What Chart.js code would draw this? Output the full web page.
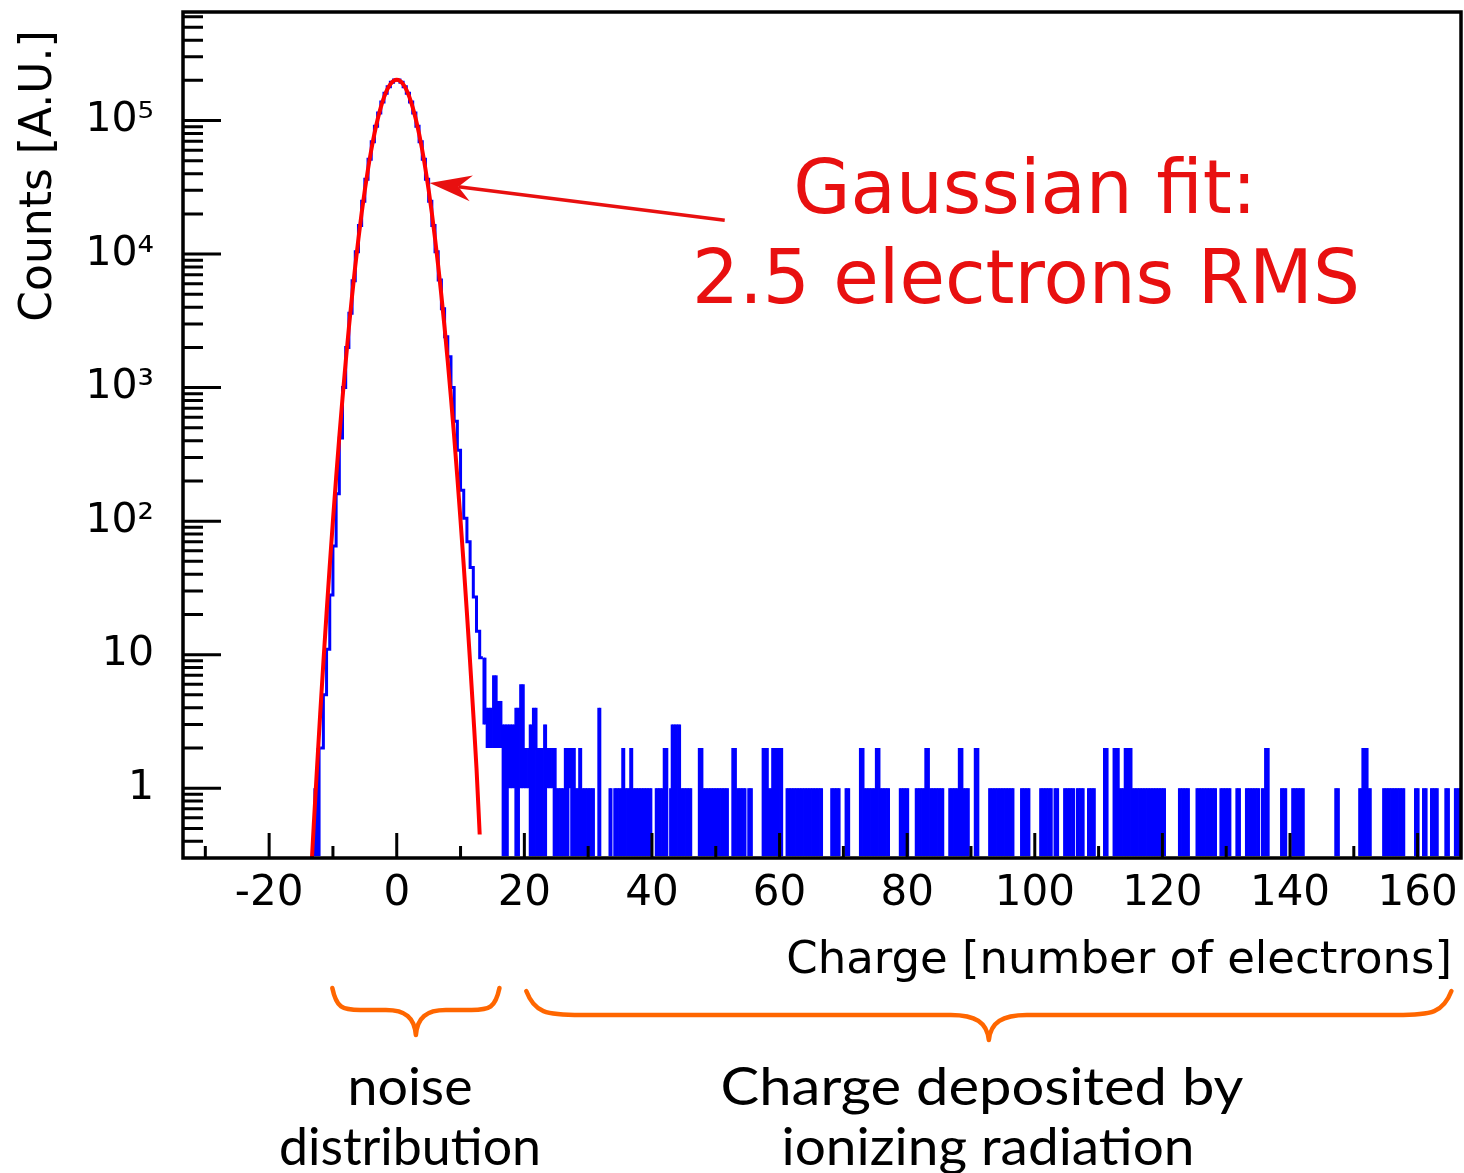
<!DOCTYPE html>
<html>
<head>
<meta charset="utf-8">
<script src="https://cdn.jsdelivr.net/npm/chart.js@4.4.1/dist/chart.umd.min.js"></script>
<style>
  html, body { margin: 0; padding: 0; background: #fff; }
  #wrap { width: 1464px; height: 1173px; position: relative; }
</style>
</head>
<body>
<div id="wrap"><canvas id="c" width="1464" height="1173"></canvas></div>
<script>
// ---------------- data ----------------
// axis ranges
const X_MIN = -33.5, X_MAX = 166.8;
const Y_MIN = 0.31, Y_MAX = 650000;

// tick values and labels
const xTickValues = [-20, 0, 20, 40, 60, 80, 100, 120, 140, 160];
const xMinorValues = [-30, -10, 10, 30, 50, 70, 90, 110, 130, 150];
const yTickValues = [1, 10, 100, 1000, 10000, 100000];
const yTickLabels = ['1', '10', '10²', '10³', '10⁴', '10⁵'];
const yMinorDecades = [0.1, 1, 10, 100, 1000, 10000, 100000];
const yMinorMultipliers = [2, 3, 4, 5, 6, 7, 8, 9];

// noise peak histogram (step outline): bin left edges [electrons] and counts
const peakEdges = [-12.0, -11.5, -11.0, -10.5, -10.0, -9.5, -9.0, -8.5, -8.0, -7.5,
  -7.0, -6.5, -6.0, -5.5, -5.0, -4.5, -4.0, -3.5, -3.0, -2.5,
  -2.0, -1.5, -1.0, -0.5, 0.0, 0.5, 1.0, 1.5, 2.0, 2.5,
  3.0, 3.5, 4.0, 4.5, 5.0, 5.5, 6.0, 6.5, 7.0, 7.5,
  8.0, 8.5, 9.0, 9.5, 10.0, 10.5, 11.0, 11.5, 12.0, 12.5, 13.0];
const peakCounts = [2, 5, 11, 28, 65, 160, 420, 1000, 2000, 3600,
  6300, 10400, 16400, 24900, 36400, 51200, 69400, 90500, 113700, 137500,
  160100, 179400, 193600, 201000, 201000, 193600, 179400, 160100, 137500, 113700,
  90500, 69400, 51200, 36400, 24900, 16400, 10400, 6400, 3900, 2400,
  1700, 1000, 560, 340, 170, 105, 70, 45, 27, 15, 9.5];
const peakClose = 13.5;

// Gaussian fit curve (red), sampled points
const fitX = [-13.5, -13.0, -12.5, -12.0, -11.5, -11.0, -10.5, -10.0, -9.5, -9.0,
  -8.5, -8.0, -7.5, -7.0, -6.5, -6.0, -5.5, -5.0, -4.5, -4.0,
  -3.5, -3.0, -2.5, -2.0, -1.5, -1.0, -0.5, 0.0, 0.5, 1.0,
  1.5, 2.0, 2.5, 3.0, 3.5, 4.0, 4.5, 5.0, 5.5, 6.0,
  6.5, 7.0, 7.5, 8.0, 8.5, 9.0, 9.5, 10.0, 10.5, 11.0,
  11.5, 12.0, 12.5, 13.0];
const fitY = [0.196, 0.535, 1.41, 3.58, 8.73, 20.5, 46.5, 101, 212, 429,
  834, 1560, 2810, 4880, 8150, 13100, 20300, 30200, 43400, 59900,
  79600, 101900, 125600, 149100, 170200, 187200, 198200, 202000, 198200, 187200,
  170200, 149100, 125600, 101900, 79600, 59900, 43400, 30200, 20300, 13100,
  8150, 4880, 2810, 1560, 834, 429, 212, 101, 46.5, 20.5,
  8.73, 3.58, 1.41, 0.45];

// sparse tail (fine-binned counts shown as filled ranges): runs [start,end) with min/max count
const BIN = 0.25;
const tailStart = [-13.0, -12.5, 13.5, 14.0, 15.0, 15.75, 16.5, 17.5, 18.5, 19.25,
  20.0, 20.75, 21.25, 22.0, 23.0, 23.5, 24.5, 25.0, 26.25, 27.0,
  27.25, 28.0, 28.5, 29.0, 31.5, 33.25, 34.0, 35.25, 35.75, 36.5,
  37.0, 40.5, 41.75, 42.75, 43.0, 44.5, 47.25, 48.0, 52.5, 53.25,
  55.0, 57.25, 58.25, 58.75, 61.0, 68.0, 70.25, 72.5, 73.25, 75.0,
  75.75, 78.75, 81.25, 82.75, 83.5, 86.5, 88.0, 88.75, 90.5, 92.75,
  97.75, 100.75, 103.0, 104.5, 106.5, 108.25, 110.75, 112.25, 113.25, 114.0,
  115.25, 122.5, 125.25, 129.0, 131.5, 133.0, 135.5, 136.0, 138.5, 140.25,
  147.0, 150.75, 151.25, 152.25, 154.5, 159.5, 160.75, 162.0, 164.25, 165.75];
const tailEnd = [-12.5, -12.0, 14.0, 15.0, 15.75, 16.5, 17.5, 18.5, 19.25, 20.0,
  20.75, 21.25, 22.0, 23.0, 23.5, 24.5, 25.0, 26.25, 27.0, 27.25,
  28.0, 28.5, 29.0, 31.0, 32.0, 33.75, 35.25, 35.75, 36.5, 37.0,
  40.0, 41.75, 42.5, 43.0, 44.5, 46.25, 48.0, 52.0, 53.25, 54.75,
  55.75, 58.25, 58.75, 60.5, 66.75, 69.5, 71.0, 73.25, 75.0, 75.75,
  77.25, 80.25, 82.75, 83.5, 85.75, 88.0, 88.75, 89.75, 91.25, 96.75,
  99.25, 102.75, 103.75, 106.25, 107.75, 109.5, 111.5, 113.25, 114.0, 115.25,
  120.5, 124.25, 128.5, 130.75, 132.25, 135.25, 136.0, 136.75, 139.5, 142.25,
  147.75, 151.25, 152.25, 152.75, 158.0, 160.25, 161.5, 163.25, 165.0, 167.0];
const tailLow = [0, 0, 3, 2, 2, 2, 0, 1, 0, 1,
  1, 0, 0, 0, 0, 1, 0, 0, 0, 1,
  0, 0, 0, 0, 0, 0, 0, 0, 0, 0,
  0, 0, 0, 0, 0, 0, 0, 0, 0, 0,
  0, 0, 0, 0, 0, 0, 0, 0, 0, 0,
  0, 0, 0, 0, 0, 0, 0, 0, 0, 0,
  0, 0, 0, 0, 0, 0, 0, 0, 0, 0,
  0, 0, 0, 0, 0, 0, 0, 0, 0, 0,
  0, 0, 0, 0, 0, 0, 0, 0, 0, 0];
const tailHigh = [1, 2, 9.5, 4, 7, 4.5, 3, 3, 4, 6,
  2, 3, 4, 2, 3, 2, 2, 1, 2, 2,
  2, 1, 2, 1, 4, 1, 1, 2, 1, 2,
  1, 1, 2, 1, 3, 1, 2, 1, 2, 1,
  1, 2, 1, 2, 1, 1, 1, 2, 1, 2,
  1, 1, 1, 2, 1, 1, 2, 1, 2, 1,
  1, 1, 1, 1, 1, 1, 2, 2, 1, 2,
  1, 1, 1, 1, 1, 1, 1, 2, 1, 1,
  1, 1, 2, 1, 1, 1, 1, 1, 1, 1];

// annotation anchors in data units
const arrowTail = [51.4, 17950];
const arrowTip = [5.15, 34000];
const noiseRange = [-10.1, 16.1];
const radiationRange = [20.3, 165.3];

// ---------------- build library tables ----------------
const barData = [];
tailStart.forEach((s, i) => {
  const n = Math.round((tailEnd[i] - s) / BIN);
  for (let k = 0; k < n; k++) {
    barData.push({ x: s + BIN / 2 + k * BIN, y: [tailLow[i] > 0 ? tailLow[i] : Y_MIN, tailHigh[i]] });
  }
});
const peakData = peakEdges.map((e, i) => ({ x: e, y: peakCounts[i] }));
peakData.push({ x: peakClose, y: peakCounts[peakCounts.length - 1] });
const fitData = fitX.map((x, i) => ({ x: x, y: fitY[i] }));

const FONT = '"DejaVu Sans"';
const BLUE = 'rgb(0,0,255)';
const RED = 'rgb(255,0,0)';
const TXT_RED = 'rgb(232,16,16)';
const ORANGE = 'rgb(255,102,0)';

function stretchText(ctx, text, cx, baseline, targetW) {
  const w = ctx.measureText(text).width;
  ctx.save();
  ctx.translate(cx, baseline);
  ctx.scale(targetW / w, 1);
  ctx.textAlign = 'center';
  ctx.textBaseline = 'alphabetic';
  ctx.fillText(text, 0, 0);
  ctx.restore();
}

function drawBrace(ctx, x0, x1, yTop, yMid, yTip, rEnd, rc) {
  const xc = (x0 + x1) / 2;
  ctx.beginPath();
  ctx.moveTo(x0, yTop);
  ctx.bezierCurveTo(x0 + rEnd * 0.15, yMid - (yMid - yTop) * 0.1, x0 + rEnd * 0.35, yMid, x0 + rEnd, yMid);
  ctx.lineTo(xc - rc, yMid);
  ctx.bezierCurveTo(xc - rc * 0.35, yMid, xc - rc * 0.05, yMid + (yTip - yMid) * 0.3, xc, yTip);
  ctx.bezierCurveTo(xc + rc * 0.05, yMid + (yTip - yMid) * 0.3, xc + rc * 0.35, yMid, xc + rc, yMid);
  ctx.lineTo(x1 - rEnd, yMid);
  ctx.bezierCurveTo(x1 - rEnd * 0.35, yMid, x1 - rEnd * 0.15, yMid - (yMid - yTop) * 0.1, x1, yTop);
  ctx.stroke();
}

function zeroPadding(s) {
  s.paddingTop = 0; s.paddingBottom = 0; s.paddingLeft = 0; s.paddingRight = 0;
}

const decor = {
  id: 'decor',
  afterDatasetsDraw(chart) {
    const ctx = chart.ctx;
    const a = chart.chartArea;
    const xs = chart.scales.x, ys = chart.scales.y;
    ctx.save();
    // inward ticks
    ctx.strokeStyle = '#000';
    ctx.lineWidth = 3;
    ctx.lineCap = 'butt';
    ctx.beginPath();
    yTickValues.forEach(v => {
      const y = ys.getPixelForValue(v);
      ctx.moveTo(a.left, y); ctx.lineTo(a.left + 38, y);
    });
    yMinorDecades.forEach(d => yMinorMultipliers.forEach(m => {
      const v = d * m;
      if (v > Y_MIN && v < Y_MAX) {
        const y = ys.getPixelForValue(v);
        ctx.moveTo(a.left, y); ctx.lineTo(a.left + 20, y);
      }
    }));
    xTickValues.forEach(v => {
      const x = xs.getPixelForValue(v);
      ctx.moveTo(x, a.bottom); ctx.lineTo(x, a.bottom - 25);
    });
    xMinorValues.forEach(v => {
      const x = xs.getPixelForValue(v);
      ctx.moveTo(x, a.bottom); ctx.lineTo(x, a.bottom - 12);
    });
    ctx.stroke();
    // frame
    ctx.lineWidth = 3.5;
    ctx.strokeRect(a.left, a.top, a.right - a.left, a.bottom - a.top);

    // arrow pointing at the fit
    const fx = xs.getPixelForValue(arrowTail[0]), fy = ys.getPixelForValue(arrowTail[1]);
    const tx = xs.getPixelForValue(arrowTip[0]), ty = ys.getPixelForValue(arrowTip[1]);
    const dx = tx - fx, dy = ty - fy, len = Math.hypot(dx, dy);
    const ux = dx / len, uy = dy / len, nx = -uy, ny = ux;
    const L = 42, W = 13, notch = 13;
    ctx.strokeStyle = TXT_RED;
    ctx.fillStyle = TXT_RED;
    ctx.lineWidth = 3.5;
    ctx.beginPath();
    ctx.moveTo(fx, fy);
    ctx.lineTo(tx - ux * (L - notch), ty - uy * (L - notch));
    ctx.stroke();
    ctx.beginPath();
    ctx.moveTo(tx, ty);
    ctx.lineTo(tx - ux * L + nx * W, ty - uy * L + ny * W);
    ctx.lineTo(tx - ux * (L - notch), ty - uy * (L - notch));
    ctx.lineTo(tx - ux * L - nx * W, ty - uy * L - ny * W);
    ctx.closePath();
    ctx.fill();
    ctx.restore();
  },
  afterDraw(chart) {
    const ctx = chart.ctx;
    const xs = chart.scales.x;
    ctx.save();
    // red annotation text
    ctx.fillStyle = TXT_RED;
    ctx.font = '74px ' + FONT;
    ctx.textAlign = 'center';
    ctx.textBaseline = 'alphabetic';
    ctx.fillText('Gaussian fit:', 1025, 213);
    ctx.fillText('2.5 electrons RMS', 1026, 303);

    // axis titles
    ctx.fillStyle = '#000';
    ctx.font = '45px ' + FONT;
    ctx.textAlign = 'right';
    ctx.fillText('Charge [number of electrons]', 1452, 973);
    ctx.save();
    ctx.font = '44px ' + FONT;
    ctx.translate(51, 176);
    ctx.rotate(-Math.PI / 2);
    ctx.textAlign = 'center';
    ctx.fillText('Counts [A.U.]', 0, 0);
    ctx.restore();

    // braces
    ctx.strokeStyle = ORANGE;
    ctx.lineWidth = 4.5;
    ctx.lineCap = 'round';
    ctx.lineJoin = 'round';
    drawBrace(ctx, xs.getPixelForValue(noiseRange[0]), xs.getPixelForValue(noiseRange[1]), 988, 1010, 1035, 28, 30);
    drawBrace(ctx, xs.getPixelForValue(radiationRange[0]), xs.getPixelForValue(radiationRange[1]), 991, 1015, 1040, 55, 38);

    // lower captions
    ctx.fillStyle = '#000';
    ctx.font = '52px Lato';
    stretchText(ctx, 'noise', 410, 1105, 125);
    stretchText(ctx, 'distribution', 410, 1165, 262);
    stretchText(ctx, 'Charge deposited by', 982, 1105, 523);
    stretchText(ctx, 'ionizing radiation', 988, 1165, 413);
    ctx.restore();
  }
};

new Chart(document.getElementById('c'), {
  type: 'bar',
  data: {
    datasets: [
      {
        type: 'line', label: 'Gaussian fit', data: fitData,
        borderColor: RED, borderWidth: 4, pointRadius: 0, fill: false,
        cubicInterpolationMode: 'monotone', order: 0
      },
      {
        type: 'line', label: 'noise', data: peakData,
        borderColor: BLUE, borderWidth: 3, pointRadius: 0, fill: false,
        stepped: true, order: 1
      },
      {
        type: 'bar', label: 'tail', data: barData,
        backgroundColor: BLUE, borderWidth: 0,
        barPercentage: 1.5, categoryPercentage: 1, grouped: false,
        order: 2, clip: 0
      }
    ]
  },
  options: {
    responsive: false,
    animation: false,
    devicePixelRatio: 1,
    layout: { padding: { top: 12, right: 3, left: 0, bottom: 0 } },
    plugins: { legend: { display: false }, tooltip: { enabled: false }, title: { display: false } },
    scales: {
      x: {
        type: 'linear', min: X_MIN, max: X_MAX, offset: false,
        afterBuildTicks: s => { s.ticks = xTickValues.map(v => ({ value: v })); },
        afterFit: s => { s.height = 315; zeroPadding(s); },
        ticks: {
          autoSkip: false, maxRotation: 0, minRotation: 0, padding: 11,
          font: { family: 'DejaVu Sans', size: 42 }, color: '#000',
          callback: v => String(v)
        },
        grid: { display: false, drawTicks: false, tickLength: 0 },
        border: { display: false }
      },
      y: {
        type: 'logarithmic', min: Y_MIN, max: Y_MAX, position: 'left',
        afterBuildTicks: s => { s.ticks = yTickValues.map(v => ({ value: v })); },
        afterFit: s => { s.width = 183; zeroPadding(s); },
        ticks: {
          autoSkip: false, padding: 29,
          font: { family: 'DejaVu Sans', size: 41 }, color: '#000',
          callback: v => { const i = yTickValues.indexOf(v); return i >= 0 ? yTickLabels[i] : ''; }
        },
        grid: { display: false, drawTicks: false, tickLength: 0 },
        border: { display: false }
      }
    }
  },
  plugins: [decor]
});
</script>
</body>
</html>
